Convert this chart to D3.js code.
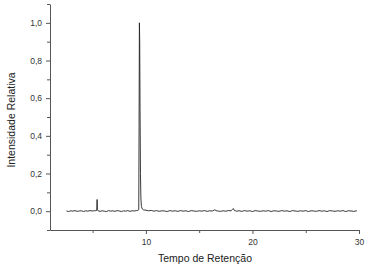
<!DOCTYPE html>
<html>
<head>
<meta charset="utf-8">
<script src="https://cdn.jsdelivr.net/npm/d3@7"></script>
<style>
  body { margin: 0; background: #fff; }
  text { font-family: "Liberation Sans", Arial, sans-serif; }
</style>
</head>
<body>
<div class="canvas"></div>
<script>
// retention time (min) and relative intensity
const retentionTime = [
  2.55, 2.75, 2.95, 3.15, 3.35, 3.55, 3.75, 3.95, 4.15, 4.35, 4.55, 4.75, 4.95, 5.15, 5.3,
  5.39, 5.42, 5.45, 5.52,
  5.7, 5.9, 6.1, 6.3, 6.5, 6.7, 6.9, 7.1, 7.3, 7.5, 7.7, 7.9, 8.1, 8.3, 8.5, 8.7, 8.9, 9.1, 9.25,
  9.33, 9.36, 9.39, 9.42, 9.45, 9.49, 9.53, 9.58, 9.66, 9.78,
  10.0, 10.25, 10.5, 10.75, 11.0, 11.25, 11.5, 11.75, 12.0, 12.25, 12.5, 12.75, 13.0, 13.25,
  13.5, 13.75, 14.0, 14.25, 14.5, 14.75, 15.0, 15.25, 15.5, 15.75, 16.0, 16.25, 16.45, 16.7,
  17.0, 17.25, 17.5, 17.75, 18.0, 18.1, 18.2, 18.3, 18.5, 18.75, 19.0, 19.25, 19.5, 19.75,
  20.0, 20.25, 20.5, 20.75, 21.0, 21.25, 21.5, 21.75, 22.0, 22.25, 22.5, 22.75, 23.0, 23.25,
  23.5, 23.75, 24.0, 24.25, 24.5, 24.75, 25.0, 25.25, 25.5, 25.75, 26.0, 26.25, 26.5, 26.75,
  27.0, 27.25, 27.5, 27.75, 28.0, 28.25, 28.5, 28.75, 29.0, 29.25, 29.5, 29.8
];
const relIntensity = [
  0.001, -0.002, 0.002, 0.000, 0.003, -0.001, 0.001, 0.002, -0.002, 0.002, 0.000, 0.003, 0.001, 0.002, 0.003,
  0.004, 0.062, 0.008, 0.002,
  -0.001, 0.002, 0.000, -0.002, 0.003, 0.000, 0.002, -0.001, 0.003, 0.001, -0.002, 0.002, 0.000, 0.003, -0.001, 0.002, 0.001, 0.003, 0.004,
  0.008, 0.450, 1.000, 0.900, 0.550, 0.200, 0.070, 0.025, 0.012, 0.007,
  0.005, 0.002, 0.004, 0.000, 0.003, -0.001, 0.002, 0.001, -0.002, 0.003, 0.000, 0.002, -0.001, 0.003,
  0.000, 0.002, -0.002, 0.003, 0.001, -0.001, 0.002, 0.000, 0.003, -0.001, 0.002, 0.001, 0.007, 0.001,
  -0.001, 0.002, 0.000, 0.003, 0.002, 0.008, 0.014, 0.004, 0.000, 0.002, -0.001, 0.003, 0.000, 0.002,
  -0.002, 0.003, 0.001, -0.001, 0.002, 0.000, 0.003, -0.002, 0.002, 0.001, -0.001, 0.003, 0.000, 0.002,
  -0.002, 0.003, 0.001, -0.001, 0.002, 0.000, 0.003, -0.002, 0.002, 0.001, -0.001, 0.003, 0.000, 0.002,
  -0.002, 0.003, 0.001, -0.001, 0.002, 0.000, 0.003, -0.002, 0.002, 0.001, -0.001, 0.002
];

const xTicks = [10, 20, 30];
const xMinorTicks = [5, 15, 25];
const yTicks = [0, 0.2, 0.4, 0.6, 0.8, 1.0];
const yMinorTicks = [-0.1, 0.1, 0.3, 0.5, 0.7, 0.9, 1.1];

const width = 369, height = 269;
const margin = { top: 4, right: 10, bottom: 39, left: 50 };

const svg = d3.select('.canvas')
  .append('svg')
  .attr('width', width)
  .attr('height', height);

// scales
const x = d3.scaleLinear().domain([1, 30]).range([margin.left, width - margin.right]);
const y = d3.scaleLinear().domain([-0.1, 1.1]).range([height - margin.bottom, margin.top]);

const fmt = d => d3.format('.1f')(d).replace('.', ',');

// minor ticks first
svg.append('g')
  .attr('transform', `translate(0,${height - margin.bottom})`)
  .call(d3.axisBottom(x).tickValues(xMinorTicks).tickSize(3).tickFormat(''))
  .call(g => g.select('.domain').remove());

svg.append('g')
  .attr('transform', `translate(${margin.left},0)`)
  .call(d3.axisLeft(y).tickValues(yMinorTicks).tickSize(3).tickFormat(''))
  .call(g => g.select('.domain').remove());

// main axes
const xAxis = svg.append('g')
  .attr('class', 'x-axis')
  .attr('transform', `translate(0,${height - margin.bottom})`)
  .call(d3.axisBottom(x).tickValues(xTicks).tickSize(4).tickSizeOuter(0).tickPadding(5));

const yAxis = svg.append('g')
  .attr('class', 'y-axis')
  .attr('transform', `translate(${margin.left},0)`)
  .call(d3.axisLeft(y).tickValues(yTicks).tickSize(4).tickSizeOuter(0).tickPadding(4).tickFormat(fmt));

svg.selectAll('.tick text')
  .attr('font-size', '8.5px')
  .attr('font-family', '"Liberation Sans", Arial, sans-serif')
  .attr('fill', '#333');

svg.selectAll('.domain, .tick line')
  .attr('stroke', '#555');

// chromatogram line
const line = d3.line()
  .x((d, i) => x(retentionTime[i]))
  .y(d => y(d));

svg.append('path')
  .datum(relIntensity)
  .attr('fill', 'none')
  .attr('stroke', '#222')
  .attr('stroke-width', 0.9)
  .attr('d', line);

// axis titles
svg.append('text')
  .attr('x', 205)
  .attr('y', 262)
  .attr('text-anchor', 'middle')
  .attr('font-size', '10.5px')
  .attr('fill', '#222')
  .text('Tempo de Retenção');

svg.append('text')
  .attr('transform', 'translate(15,120) rotate(-90)')
  .attr('text-anchor', 'middle')
  .attr('font-size', '10.5px')
  .attr('fill', '#222')
  .text('Intensidade Relativa');
</script>
</body>
</html>
